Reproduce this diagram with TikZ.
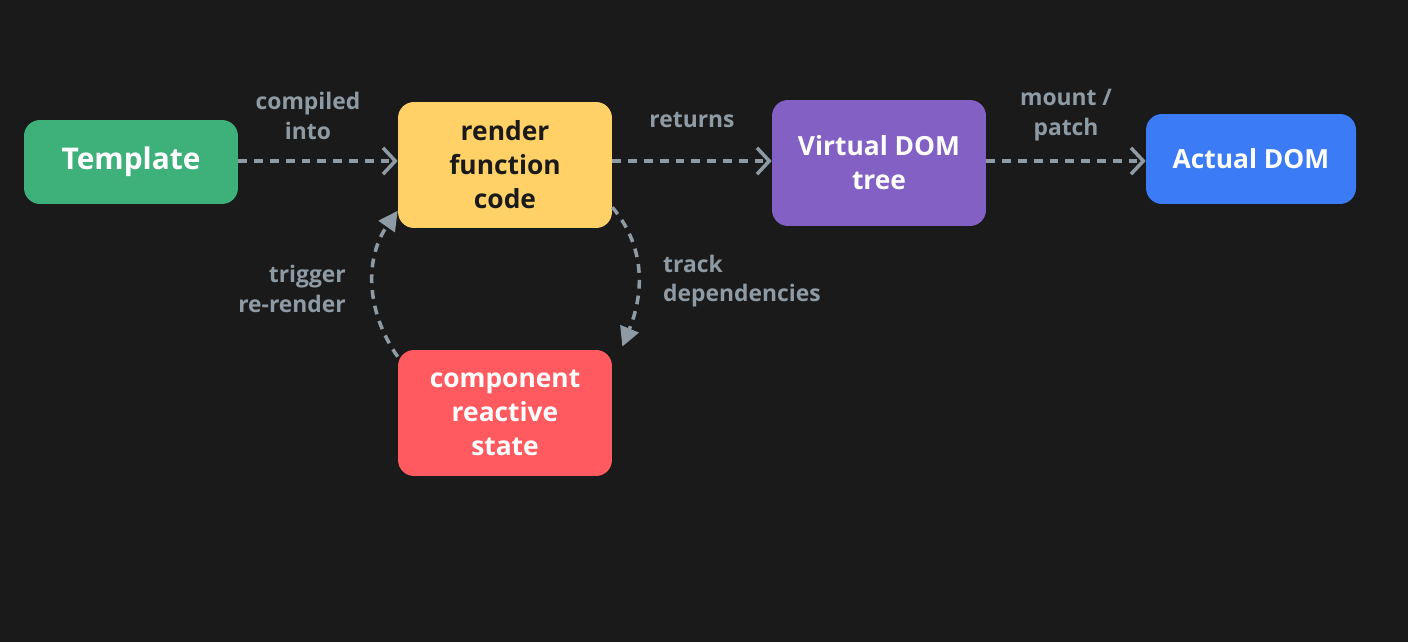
\documentclass[tikz,border=0pt]{standalone}
\usepackage{fontspec}
\setmainfont{Open Sans}
\usetikzlibrary{arrows.meta}
\definecolor{bgdark}{HTML}{1A1A1A}
\definecolor{tplgreen}{HTML}{3EB07A}
\definecolor{rndyellow}{HTML}{FFD166}
\definecolor{vdompurple}{HTML}{8360C3}
\definecolor{domblue}{HTML}{3B7BF6}
\definecolor{statered}{HTML}{FF5A5F}
\definecolor{edgegray}{HTML}{8E9BA5}
\tikzset{
    block/.style={rounded corners=0.32cm, minimum width=4.28cm, minimum height=2.52cm,
        align=center, font=\fontsize{15}{19.4}\selectfont\bfseries, inner sep=2pt},
    flow/.style={edgegray, line width=2pt, dash pattern=on 5pt off 4pt},
    lbl/.style={edgegray, align=center, font=\fontsize{13}{16.8}\selectfont\bfseries}
}
\begin{document}
\begin{tikzpicture}[x=0.02cm, y=0.02cm]
    \fill[bgdark] (0,0) rectangle (1408,642);
    \useasboundingbox (0,0) rectangle (1408,642);
    % Blocks
    \node[block, fill=tplgreen, text=white, minimum height=1.68cm,
        font=\fontsize{17}{20}\selectfont\bfseries] (tpl) at (131,480) {Template};
    \node[block, fill=rndyellow, text=bgdark] (render) at (505,477) {render\\function\\code};
    \node[block, fill=vdompurple, text=white] (vdom) at (879,479) {Virtual DOM\\tree};
    \node[block, fill=domblue, text=white, minimum width=4.2cm, minimum height=1.8cm] (actual) at (1251,483) {Actual DOM};
    \node[block, fill=statered, text=white] (state) at (505,229) {component\\reactive\\state};
    % Straight edges
    \foreach \a/\b in {tpl/render, render/vdom, vdom/actual} {
            \draw[flow, -{Straight Barb[length=7pt, width=15pt, line width=2pt]}]
                (\a.east |- 0,481) -- (\b.west |- 0,481);
        }
    % Loop edges
    \draw[flow, -{Triangle[length=11pt, width=11pt]}] ([yshift=12pt]render.south east)
        to[out=-50, in=68] ([xshift=0.2cm,yshift=0.06cm]state.north east);
    \draw[flow, -{Triangle[length=11pt, width=11pt]}] ([yshift=-4pt]state.north west)
        to[out=125, in=-125] ([yshift=10pt]render.south west);
    % Labels
    \node[lbl] (lcomp) at (308,526) {compiled\\into};
    \node[lbl] (lret) at (692,522) {returns};
    \node[lbl] (lmount) at (1066,527) {mount /\\patch};
    \node[lbl, align=left, anchor=west] (ltrack) at (657,361) {track\\dependencies};
    \node[lbl, align=right, anchor=east] (ltrig) at (352,353) {trigger\\re-render};
\end{tikzpicture}
\end{document}
